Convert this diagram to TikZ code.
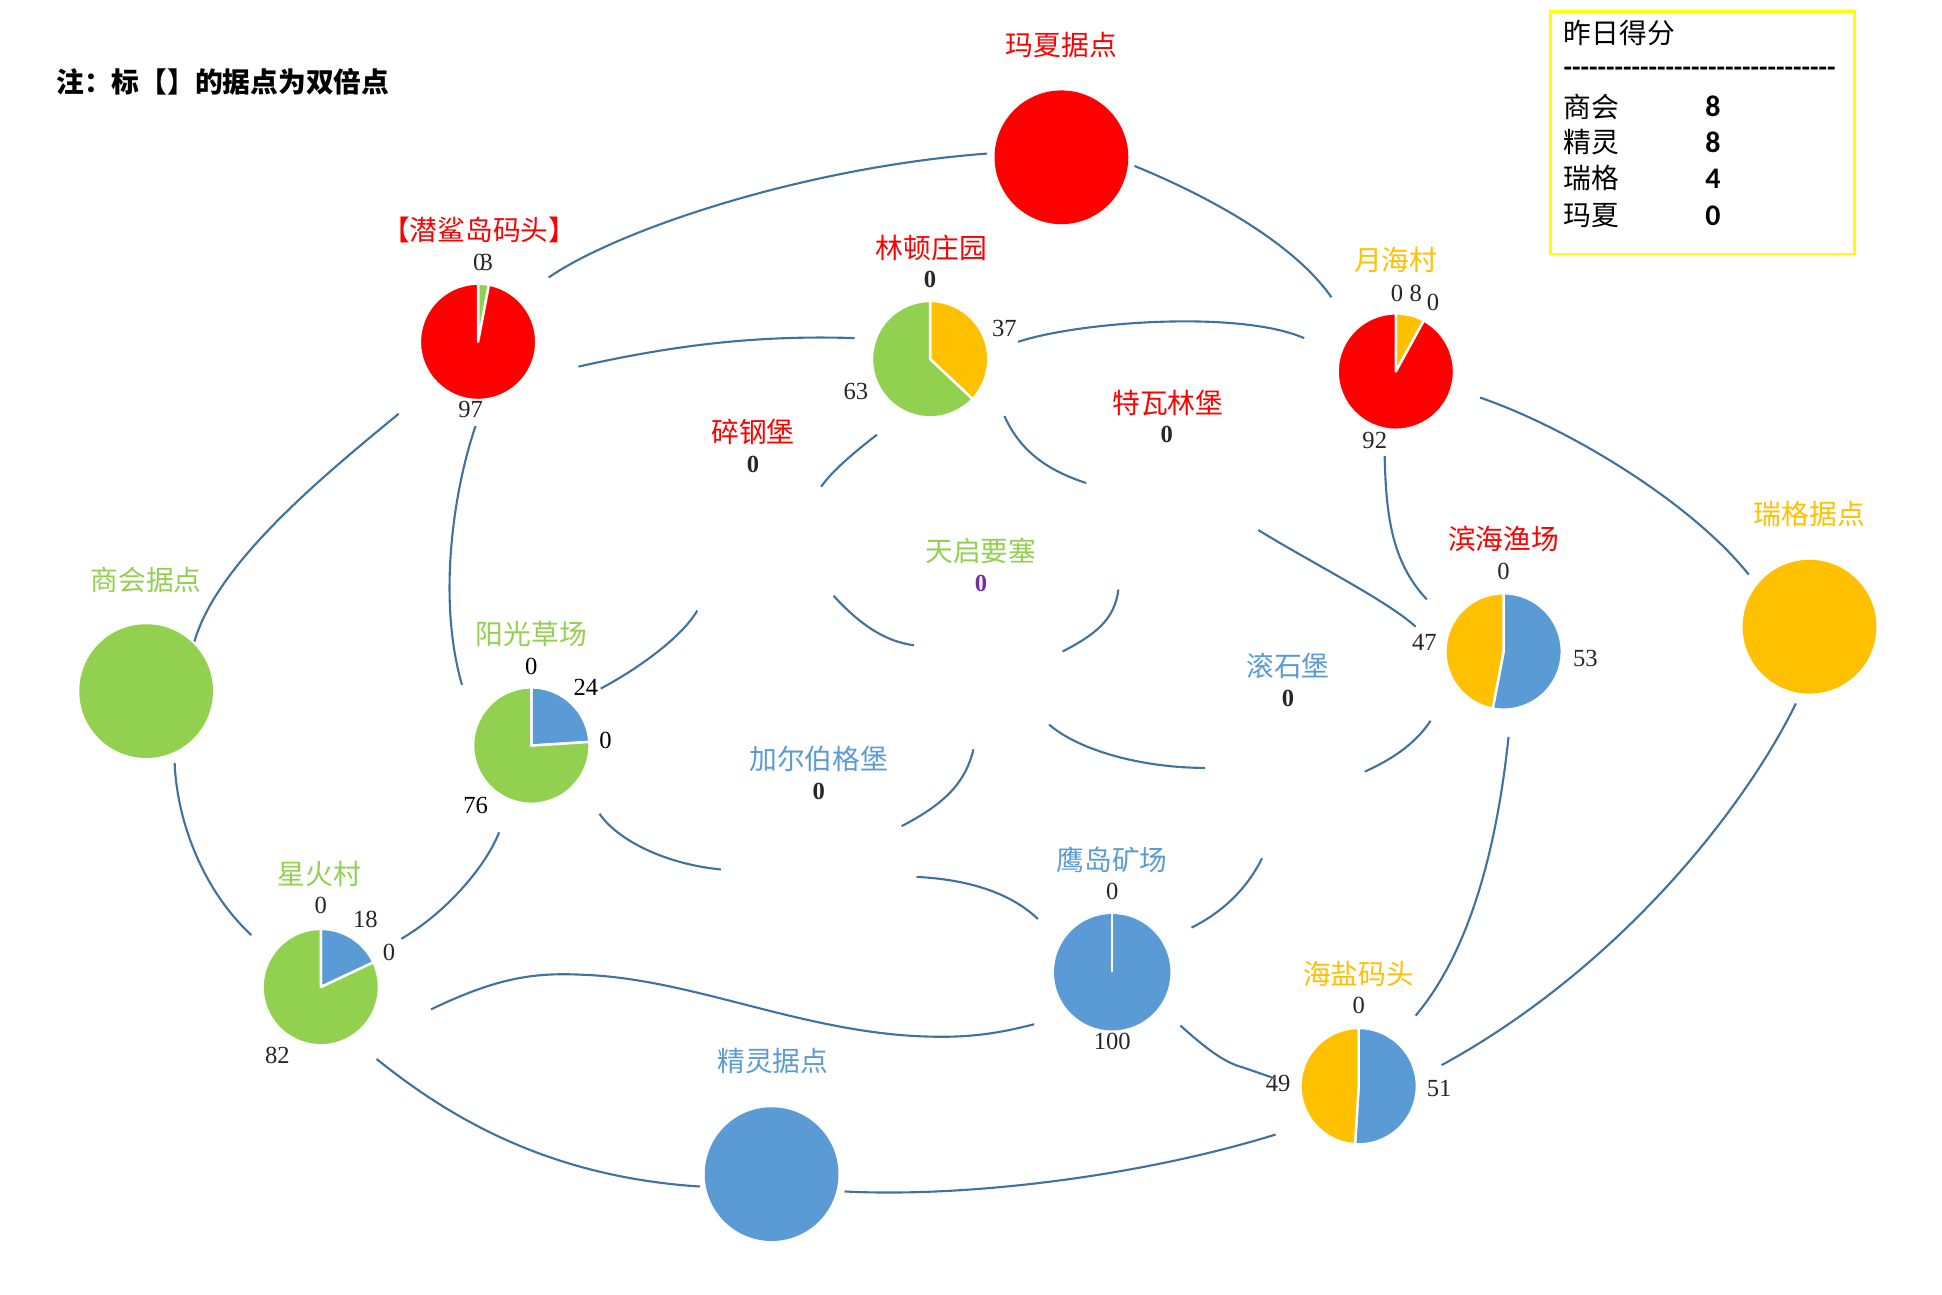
\documentclass[tikz,border=0pt]{standalone}
\usepackage{fontspec}
\setmainfont{Liberation Serif}
\newfontfamily\cjk{Noto Sans CJK SC}
\newfontfamily\carl{Carlito}
\definecolor{redc}{HTML}{FF0000}
\definecolor{greenc}{HTML}{92D050}
\definecolor{yellowc}{HTML}{FFC000}
\definecolor{bluec}{HTML}{5B9BD5}
\definecolor{edgec}{HTML}{41719C}
\definecolor{numc}{HTML}{262626}
\definecolor{purplec}{HTML}{7030A0}
\definecolor{boxc}{HTML}{FFFF00}
\newcommand\pieslice[4]{\filldraw[fill=#4, draw=white, line width=0.7pt, line join=round] (#1.center) -- ++(#2:47) arc[start angle=#2, end angle=#3, radius=47] -- cycle;}
\begin{document}
\begin{tikzpicture}[x=0.012385cm, y=0.012385cm,
  lbl/.style={font=\cjk\fontsize{7.9}{9}\selectfont, inner sep=0},
  num/.style={font=\fontsize{7}{8}\selectfont, text=numc, inner sep=0},
  bnum/.style={font=\bfseries\fontsize{7}{8}\selectfont, text=numc, inner sep=0},
  edge/.style={draw=edgec, line width=0.6pt},
  bigc/.style={circle, inner sep=0, minimum size=1.3376cm},
  piec/.style={circle, inner sep=0, minimum size=1.1642cm},
  sep/.style={draw=white, line width=0.7pt}]
\useasboundingbox (0,0) rectangle (1568,-1045);

% note
\node[lbl, anchor=west, font=\cjk\bfseries\fontsize{7.9}{9}\selectfont] (note) at (45,-66) {注：标【】的据点为双倍点};

% legend
\node[draw=boxc, line width=0.8pt, minimum width=3.034cm, minimum height=2.427cm, anchor=north west, inner sep=0] (leg) at (1251,-8) {};
\node[lbl, anchor=west] (leg-t) at (1262,-27) {昨日得分};
\node[anchor=west, inner sep=0, font=\carl\bfseries\fontsize{7.9}{9}\selectfont] (leg-d) at (1262,-58) {--------------------------------};
\node[lbl, anchor=west] (leg-n1) at (1262,-86) {商会};
\node[lbl, anchor=west] (leg-n2) at (1262,-115) {精灵};
\node[lbl, anchor=west] (leg-n3) at (1262,-144) {瑞格};
\node[lbl, anchor=west] (leg-n4) at (1262,-174) {玛夏};
\node[inner sep=0, font=\carl\bfseries\fontsize{8.5}{9}\selectfont] (leg-v1) at (1383,-86) {8};
\node[inner sep=0, font=\carl\bfseries\fontsize{8.5}{9}\selectfont] (leg-v2) at (1383,-115) {8};
\node[inner sep=0, font=\carl\bfseries\fontsize{8.5}{9}\selectfont] (leg-v3) at (1383,-144) {4};
\node[inner sep=0, font=\carl\bfseries\fontsize{8.5}{9}\selectfont] (leg-v4) at (1383,-174) {0};

% big circles
\node[bigc, fill=redc] (mx) at (857,-127) {};
\node[lbl, text=redc] (mx-l) at (857,-36) {玛夏据点};
\node[bigc, fill=greenc] (sh) at (118,-558) {};
\node[lbl, text=greenc] (sh-l) at (118,-468) {商会据点};
\node[bigc, fill=yellowc] (rg) at (1461,-506) {};
\node[lbl, text=yellowc] (rg-l) at (1461,-415) {瑞格据点};
\node[bigc, fill=bluec] (jl) at (623,-948) {};
\node[lbl, text=bluec] (jl-l) at (624,-857) {精灵据点};

% pies
\node[piec] (qs) at (386,-276) {};
\pieslice{qs}{90}{79.2}{greenc}
\pieslice{qs}{79.2}{-270}{redc}
\node[lbl, text=redc] (qs-l) at (387,-186) {【潜鲨岛码头】};
\node[num] (qs-v0) at (387,-212) {0};
\node[num] (qs-v1) at (393,-212) {3};
\node[num] (qs-v2) at (380,-331) {97};

\node[piec] (ld) at (751,-290) {};
\pieslice{ld}{90}{-43.2}{yellowc}
\pieslice{ld}{-43.2}{-270}{greenc}
\node[lbl, text=redc] (ld-l) at (752,-200) {林顿庄园};
\node[bnum] (ld-v0) at (751,-226) {0};
\node[num] (ld-v1) at (811,-265) {37};
\node[num] (ld-v2) at (691,-316) {63};

\node[piec] (yh) at (1127,-300) {};
\pieslice{yh}{90}{61.2}{yellowc}
\pieslice{yh}{61.2}{-270}{redc}
\node[lbl, text=yellowc] (yh-l) at (1127,-210) {月海村};
\node[num] (yh-v0) at (1128,-237) {0};
\node[num] (yh-v1) at (1143,-237) {8};
\node[num] (yh-v2) at (1157,-244) {0};
\node[num] (yh-v3) at (1110,-356) {92};

\node[piec] (bh) at (1214,-526) {};
\pieslice{bh}{90}{-100.8}{bluec}
\pieslice{bh}{-100.8}{-270}{yellowc}
\node[lbl, text=redc] (bh-l) at (1214,-435) {滨海渔场};
\node[num] (bh-v0) at (1214,-461) {0};
\node[num] (bh-v1) at (1150,-519) {47};
\node[num] (bh-v2) at (1280,-532) {53};

\node[piec] (yg) at (429,-602) {};
\pieslice{yg}{90}{3.6}{bluec}
\pieslice{yg}{3.6}{-270}{greenc}
\node[lbl, text=greenc] (yg-l) at (429,-512) {阳光草场};
\node[num, text=black] (yg-v0) at (429,-538) {0};
\node[num, text=black] (yg-v1) at (473,-555) {24};
\node[num, text=black] (yg-v2) at (489,-598) {0};
\node[num, text=black] (yg-v3) at (384,-650) {76};

\node[piec] (xh) at (259,-797) {};
\pieslice{xh}{90}{25.2}{bluec}
\pieslice{xh}{25.2}{-270}{greenc}
\node[lbl, text=greenc] (xh-l) at (258,-706) {星火村};
\node[num] (xh-v0) at (259,-731) {0};
\node[num] (xh-v1) at (295,-742) {18};
\node[num] (xh-v2) at (314,-769) {0};
\node[num] (xh-v3) at (224,-852) {82};

\node[piec, fill=bluec] (yd) at (898,-785) {};
\draw[sep] (yd.center) -- (yd.north);
\node[lbl, text=bluec] (yd-l) at (898,-694) {鹰岛矿场};
\node[num] (yd-v0) at (898,-720) {0};
\node[num] (yd-v1) at (898,-841) {100};

\node[piec] (hy) at (1097,-877) {};
\pieslice{hy}{90}{-93.6}{bluec}
\pieslice{hy}{-93.6}{-270}{yellowc}
\node[lbl, text=yellowc] (hy-l) at (1097,-786) {海盐码头};
\node[num] (hy-v0) at (1097,-812) {0};
\node[num] (hy-v1) at (1032,-875) {49};
\node[num] (hy-v2) at (1162,-879) {51};

% label-only nodes
\node[lbl, text=redc] (sg-l) at (608,-349) {碎钢堡};
\node[bnum] (sg-v) at (608,-375) {0};
\node[lbl, text=redc] (tw-l) at (943,-325) {特瓦林堡};
\node[bnum] (tw-v) at (942,-351) {0};
\node[lbl, text=greenc] (tq-l) at (792,-445) {天启要塞};
\node[bnum, text=purplec] (tq-v) at (792,-471) {0};
\node[lbl, text=bluec] (gs-l) at (1040,-538) {滚石堡};
\node[bnum] (gs-v) at (1040,-564) {0};
\node[lbl, text=bluec] (je-l) at (661,-613) {加尔伯格堡};
\node[bnum] (je-v) at (661,-639) {0};

% connector end points
\coordinate (a1) at (443,-224); \coordinate (a2) at (797,-124);
\coordinate (b1) at (916,-134); \coordinate (b2) at (1075,-240);
\coordinate (c1) at (467,-296); \coordinate (c2) at (690,-273);
\coordinate (d1) at (822,-276); \coordinate (d2) at (1053,-273);
\coordinate (e1) at (1195,-321); \coordinate (e2) at (1412,-464);
\coordinate (f1) at (322,-334); \coordinate (f2) at (157,-518);
\coordinate (g1) at (384,-344); \coordinate (g2) at (373,-553);
\coordinate (h1) at (708,-351); \coordinate (h2) at (663,-393);
\coordinate (i1) at (811,-336); \coordinate (i2) at (877,-390);
\coordinate (j1) at (1016,-428); \coordinate (j2) at (1143,-506);
\coordinate (k1) at (1118,-368); \coordinate (k2) at (1152,-484);
\coordinate (l1) at (563,-493); \coordinate (l2) at (485,-556);
\coordinate (m1) at (673,-481); \coordinate (m2) at (738,-521);
\coordinate (n1) at (903,-476); \coordinate (n2) at (858,-526);
\coordinate (o1) at (847,-585); \coordinate (o2) at (973,-620);
\coordinate (p1) at (1102,-623); \coordinate (p2) at (1155,-582);
\coordinate (q1) at (786,-605); \coordinate (q2) at (728,-667);
\coordinate (r1) at (484,-657); \coordinate (r2) at (582,-702);
\coordinate (s1) at (740,-708); \coordinate (s2) at (838,-742);
\coordinate (t1) at (1019,-693); \coordinate (t2) at (962,-749);
\coordinate (u1) at (403,-672); \coordinate (u2) at (324,-758);
\coordinate (v1) at (141,-616); \coordinate (v2) at (203,-755);
\coordinate (w1) at (348,-815); \coordinate (w2) at (835,-827);
\coordinate (x1) at (953,-828); \coordinate (x2) at (1030,-871);
\coordinate (y1) at (304,-855); \coordinate (y2) at (565,-958);
\coordinate (z1) at (682,-962); \coordinate (z2) at (1030,-916);
\coordinate (aa1) at (1218,-595); \coordinate (aa2) at (1143,-820);
\coordinate (bb1) at (1450,-568); \coordinate (bb2) at (1164,-860);

% connectors
\draw[edge] (a1) .. controls (500,-185) and (650,-135) .. (a2);
\draw[edge] (b1) .. controls (960,-152) and (1040,-190) .. (b2);
\draw[edge] (c1) .. controls (530,-282) and (600,-270) .. (c2);
\draw[edge] (d1) .. controls (870,-260) and (1000,-250) .. (d2);
\draw[edge] (e1) .. controls (1265,-345) and (1365,-405) .. (e2);
\draw[edge] (f1) .. controls (260,-385) and (175,-455) .. (f2);
\draw[edge] (g1) .. controls (368,-390) and (352,-480) .. (g2);
\draw[edge] (h1) .. controls (690,-365) and (672,-380) .. (h2);
\draw[edge] (i1) .. controls (822,-360) and (840,-378) .. (i2);
\draw[edge] (j1) .. controls (1060,-455) and (1120,-485) .. (j2);
\draw[edge] (k1) .. controls (1119,-420) and (1125,-455) .. (k2);
\draw[edge] (l1) .. controls (550,-515) and (515,-540) .. (l2);
\draw[edge] (m1) .. controls (695,-505) and (715,-518) .. (m2);
\draw[edge] (n1) .. controls (900,-500) and (885,-512) .. (n2);
\draw[edge] (o1) .. controls (870,-605) and (920,-620) .. (o2);
\draw[edge] (p1) .. controls (1115,-617) and (1140,-605) .. (p2);
\draw[edge] (q1) .. controls (780,-630) and (765,-648) .. (q2);
\draw[edge] (r1) .. controls (500,-680) and (540,-698) .. (r2);
\draw[edge] (s1) .. controls (780,-710) and (815,-720) .. (s2);
\draw[edge] (t1) .. controls (1008,-715) and (990,-735) .. (t2);
\draw[edge] (u1) .. controls (392,-700) and (360,-737) .. (u2);
\draw[edge] (v1) .. controls (143,-665) and (165,-720) .. (v2);
\draw[edge] (w1) .. controls (400,-790) and (430,-785) .. (470,-787)
  .. controls (560,-790) and (650,-835) .. (752,-837)
  .. controls (790,-838) and (815,-832) .. (w2);
\draw[edge] (x1) .. controls (972,-845) and (988,-858) .. (1004,-862) -- (x2);
\draw[edge] (y1) .. controls (360,-900) and (440,-950) .. (y2);
\draw[edge] (z1) .. controls (780,-967) and (920,-950) .. (z2);
\draw[edge] (aa1) .. controls (1208,-690) and (1185,-770) .. (aa2);
\draw[edge] (bb1) .. controls (1410,-650) and (1310,-780) .. (bb2);
\end{tikzpicture}
\end{document}
